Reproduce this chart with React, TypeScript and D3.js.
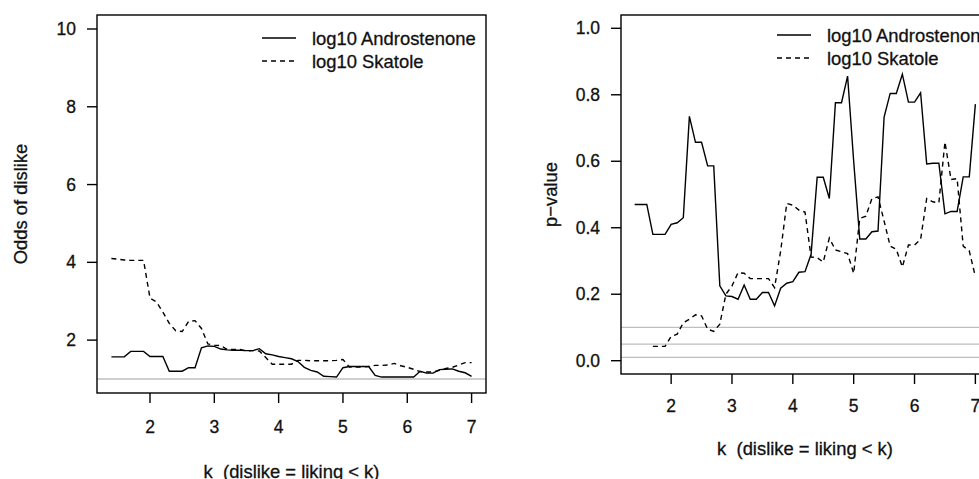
import React, { useEffect, useRef } from 'react';
import { select, scaleLinear, line } from 'd3';

// k values (x axis)
const kValues = [1.4, 1.5, 1.6, 1.7, 1.8, 1.9, 2.0, 2.1, 2.2, 2.3, 2.4, 2.5, 2.6, 2.7, 2.8, 2.9,
  3.0, 3.1, 3.2, 3.3, 3.4, 3.5, 3.6, 3.7, 3.8, 3.9, 4.0, 4.1, 4.2, 4.3, 4.4, 4.5, 4.6, 4.7, 4.8, 4.9,
  5.0, 5.1, 5.2, 5.3, 5.4, 5.5, 5.6, 5.7, 5.8, 5.9, 6.0, 6.1, 6.2, 6.3, 6.4, 6.5, 6.6, 6.7, 6.8, 6.9, 7.0];

// left panel: odds of dislike
const oddsAndro = [1.57, 1.57, 1.57, 1.71, 1.71, 1.71, 1.58, 1.58, 1.58, 1.20, 1.20, 1.20, 1.29, 1.29, 1.80, 1.85,
  1.84, 1.77, 1.75, 1.74, 1.74, 1.73, 1.73, 1.78, 1.65, 1.62, 1.58, 1.55, 1.52, 1.45, 1.30, 1.22, 1.18, 1.07, 1.06, 1.05,
  1.29, 1.32, 1.32, 1.32, 1.32, 1.09, 1.05, 1.05, 1.05, 1.05, 1.05, 1.05, 1.20, 1.15, 1.15, 1.24, 1.25, 1.26, 1.20, 1.16, 1.07];
const oddsSkatole = [4.10, 4.08, 4.06, 4.05, 4.05, 4.05, 3.08, 2.98, 2.72, 2.43, 2.24, 2.22, 2.48, 2.50, 2.30, 1.90,
  1.87, 1.86, 1.76, 1.76, 1.76, 1.72, 1.73, 1.72, 1.55, 1.38, 1.38, 1.38, 1.38, 1.48, 1.48, 1.47, 1.47, 1.47, 1.47, 1.48,
  1.50, 1.31, 1.31, 1.31, 1.32, 1.35, 1.35, 1.36, 1.40, 1.34, 1.30, 1.25, 1.19, 1.18, 1.18, 1.22, 1.27, 1.30, 1.36, 1.42, 1.42];

// right panel: p-values
const pAndro = [0.47, 0.47, 0.47, 0.38, 0.38, 0.38, 0.41, 0.415, 0.43, 0.735, 0.657, 0.657, 0.586, 0.586, 0.225, 0.195,
  0.193, 0.185, 0.228, 0.185, 0.185, 0.205, 0.205, 0.165, 0.218, 0.233, 0.238, 0.266, 0.268, 0.32, 0.552, 0.552, 0.488, 0.776, 0.776, 0.856,
  0.60, 0.366, 0.366, 0.388, 0.39, 0.733, 0.804, 0.804, 0.862, 0.778, 0.778, 0.806, 0.592, 0.594, 0.594, 0.442, 0.449, 0.449, 0.553, 0.553, 0.772];
const pSkatole = [null, null, null, 0.043, 0.043, 0.043, 0.073, 0.08, 0.114, 0.125, 0.138, 0.135, 0.095, 0.088, 0.11, 0.20,
  0.225, 0.265, 0.263, 0.247, 0.247, 0.247, 0.247, 0.22, 0.33, 0.473, 0.468, 0.453, 0.447, 0.312, 0.31, 0.297, 0.369, 0.333, 0.328, 0.322,
  0.263, 0.428, 0.435, 0.488, 0.493, 0.42, 0.345, 0.335, 0.282, 0.348, 0.348, 0.365, 0.488, 0.478, 0.475, 0.658, 0.545, 0.548, 0.345, 0.33, 0.253];

const xTicks = [2, 3, 4, 5, 6, 7];
const oddsTicks = [2, 4, 6, 8, 10];
const pTicks = [0, 0.2, 0.4, 0.6, 0.8, 1.0];
const pTickLabels = ['0.0', '0.2', '0.4', '0.6', '0.8', '1.0'];
const oddsRefLines = [1];
const pRefLines = [0.1, 0.05, 0.01];
const seriesNames = ['log10 Androstenone', 'log10 Skatole'];

const FONT = 'Liberation Sans, Arial, sans-serif';
const LW = 1.4;

// slightly heavier text, the reference is a blurry R png
function styleText(sel, size) {
  return sel
    .attr('font-family', FONT).attr('font-size', size)
    .attr('fill', '#111').attr('stroke', '#111').attr('stroke-width', 0.3)
    .style('white-space', 'pre');
}

function drawPanel(svg, opts) {
  const { left, right, top, bottom, yDomain, yTicks, yLabels, refLines, s1, s2, yTitle, tickLabY, xTitleY, yTitleX, legendX, legendY } = opts;

  const x = scaleLinear().domain([1.176, 7.224]).range([left, right]);
  const y = scaleLinear().domain(yDomain).range([bottom, top]);

  const g = svg.append('g');

  // reference lines
  g.selectAll('.ref').data(refLines).enter().append('line')
    .attr('x1', left).attr('x2', right)
    .attr('y1', d => y(d)).attr('y2', d => y(d))
    .attr('stroke', '#bebebe').attr('stroke-width', 1.3);

  const lineGen = line()
    .defined(d => d[1] != null)
    .x(d => x(d[0]))
    .y(d => y(d[1]));

  g.append('path')
    .datum(kValues.map((k, i) => [k, s1[i]]))
    .attr('fill', 'none').attr('stroke', '#000').attr('stroke-width', LW)
    .attr('d', lineGen);

  g.append('path')
    .datum(kValues.map((k, i) => [k, s2[i]]))
    .attr('fill', 'none').attr('stroke', '#000').attr('stroke-width', LW)
    .attr('stroke-dasharray', '5,4')
    .attr('d', lineGen);

  // box
  g.append('rect')
    .attr('x', left).attr('y', top)
    .attr('width', right - left).attr('height', bottom - top)
    .attr('fill', 'none').attr('stroke', '#000').attr('stroke-width', LW);

  // x axis
  g.selectAll('.xt').data(xTicks).enter().append('line')
    .attr('x1', d => x(d)).attr('x2', d => x(d))
    .attr('y1', bottom).attr('y2', bottom + 10)
    .attr('stroke', '#000').attr('stroke-width', LW);
  styleText(g.selectAll('.xl').data(xTicks).enter().append('text'), 17.5)
    .attr('x', d => x(d)).attr('y', tickLabY)
    .attr('text-anchor', 'middle').attr('dominant-baseline', 'central')
    .text(d => d);

  // y axis
  g.selectAll('.yt').data(yTicks).enter().append('line')
    .attr('x1', left - 10).attr('x2', left)
    .attr('y1', d => y(d)).attr('y2', d => y(d))
    .attr('stroke', '#000').attr('stroke-width', LW);
  styleText(g.selectAll('.yl').data(yTicks).enter().append('text'), 17.5)
    .attr('x', left - 21).attr('y', d => y(d))
    .attr('text-anchor', 'end').attr('dominant-baseline', 'central')
    .text((d, i) => yLabels[i]);

  // titles
  styleText(g.append('text'), 18.4)
    .attr('x', (left + right) / 2)
    .attr('y', xTitleY)
    .attr('text-anchor', 'middle').attr('dominant-baseline', 'central')
    .text('k  (dislike = liking < k)');
  styleText(g.append('text'), 18.4)
    .attr('transform', `translate(${yTitleX},${(top + bottom) / 2}) rotate(-90)`)
    .attr('text-anchor', 'middle').attr('dominant-baseline', 'central')
    .text(yTitle);

  // legend
  seriesNames.forEach((name, i) => {
    const ly = legendY + i * 23;
    g.append('line')
      .attr('x1', legendX).attr('x2', legendX + 34)
      .attr('y1', ly).attr('y2', ly)
      .attr('stroke', '#000').attr('stroke-width', LW)
      .attr('stroke-dasharray', i === 1 ? '5,4' : null);
    styleText(g.append('text'), 18.4)
      .attr('x', legendX + 50).attr('y', ly)
      .attr('dominant-baseline', 'central')
      .text(name);
  });
}

function App() {
  const ref = useRef(null);

  useEffect(() => {
    const svg = select(ref.current);
    svg.selectAll('*').remove();

    drawPanel(svg, {
      left: 97, right: 486, top: 15, bottom: 393,
      yDomain: [0.64, 10.36], yTicks: oddsTicks, yLabels: oddsTicks.map(String),
      refLines: oddsRefLines, s1: oddsAndro, s2: oddsSkatole,
      yTitle: 'Odds of dislike', tickLabY: 427, xTitleY: 471, yTitleX: 20,
      legendX: 262, legendY: 38,
    });

    drawPanel(svg, {
      left: 621, right: 989, top: 15, bottom: 374,
      yDomain: [-0.04, 1.04], yTicks: pTicks, yLabels: pTickLabels,
      refLines: pRefLines, s1: pAndro, s2: pSkatole,
      yTitle: 'p\u2212value', tickLabY: 406, xTitleY: 448, yTitleX: 550,
      legendX: 777, legendY: 35,
    });
  }, []);

  return (
    <svg ref={ref} width={979} height={479}
      style={{ position: 'absolute', left: 0, top: 0, background: '#fff' }} />
  );
}

export default App;
